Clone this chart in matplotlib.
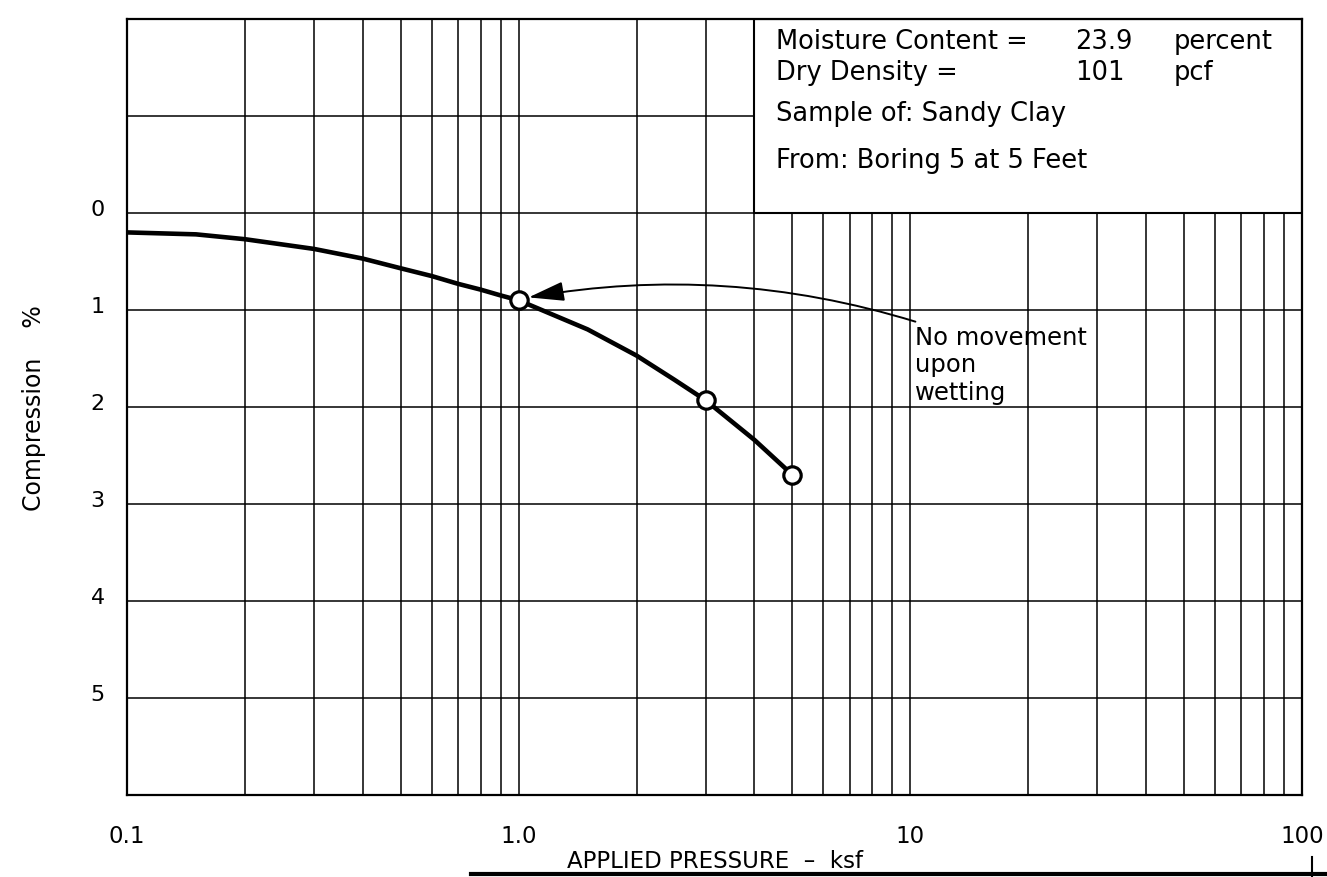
import matplotlib
matplotlib.use("Agg")
import matplotlib.pyplot as plt
from matplotlib.patches import Rectangle
from matplotlib.lines import Line2D
from matplotlib.transforms import ScaledTranslation
from matplotlib.ticker import LogLocator, NullFormatter, FixedLocator

plt.rcParams['font.family'] = ['DejaVu Sans']

# consolidation curve
pressure_curve = [0.1, 0.15, 0.2, 0.3, 0.4, 0.5, 0.6, 0.7, 0.8, 0.9, 1.0, 1.5, 2.0, 2.5, 3.0, 4.0, 5.0]
compression_curve = [0.20, 0.22, 0.27, 0.37, 0.47, 0.57, 0.65, 0.73, 0.79, 0.85, 0.90, 1.20, 1.47, 1.72, 1.93, 2.34, 2.70]

# measured load steps (open circles)
pressure_pts = [1.0, 3.0, 5.0]
compression_pts = [0.90, 1.93, 2.70]

x_major = [0.1, 1.0, 10, 100]
x_labels = ['0.1', '1.0', '10', '100']
y_lines = [-1, 0, 1, 2, 3, 4, 5]
y_labels = ['', '0', '1', '2', '3', '4', '5']

info_rows = [("Moisture Content =", "23.9", "percent"),
             ("Dry Density =", "101", "pcf")]
sample_txt = "Sample of: Sandy Clay"
from_txt = "From: Boring 5 at 5 Feet"
note_txt = "No movement\nupon\nwetting"

fig = plt.figure(figsize=(13.27, 8.78), dpi=100)
ax = fig.add_axes([0.0957, 0.0934, 0.8855, 0.8838])

ax.set_xscale('log')
ax.set_xlim(0.1, 100)
ax.set_ylim(6, -2)
ax.set_axisbelow(True)

ax.xaxis.set_major_locator(FixedLocator(x_major))
ax.set_xticklabels(x_labels)
ax.xaxis.set_minor_locator(LogLocator(base=10, subs=range(2, 10)))
ax.xaxis.set_minor_formatter(NullFormatter())
ax.set_yticks(y_lines)
ax.set_yticklabels(y_labels)

ax.tick_params(which='both', length=0)
ax.tick_params(axis='x', pad=21, labelsize=16.5)
ax.tick_params(axis='y', pad=16, labelsize=16)
# the y numbers sit a little above their lines on the sheet
for lab in ax.get_yticklabels():
    lab.set_transform(lab.get_transform() + ScaledTranslation(0, 0.06, fig.dpi_scale_trans))
ax.grid(which='both', axis='x', color='black', lw=1.1)
ax.grid(which='major', axis='y', color='black', lw=1.1)
for s in ax.spines.values():
    s.set_linewidth(1.6)

ax.set_xlabel("APPLIED PRESSURE  \u2013  ksf", fontsize=16.5)
ax.xaxis.set_label_coords(0.5, -0.07)
ax.set_ylabel("Compression    %", fontsize=17)
ax.yaxis.set_label_coords(-0.069, 0.5)

# info box, covers the grid in the upper right
ax.add_patch(Rectangle((4, -2), 96, 2, facecolor='white', edgecolor='black', lw=1.5, zorder=2))
row_y = [-1.77, -1.45]
for (lab, val, unit), yy in zip(info_rows, row_y):
    ax.text(4.55, yy, lab, fontsize=18.5, va='center', ha='left', zorder=3)
    ax.text(26.3, yy, val, fontsize=18.5, va='center', ha='left', zorder=3)
    ax.text(47.0, yy, unit, fontsize=18.5, va='center', ha='left', zorder=3)
ax.text(4.55, -1.03, sample_txt, fontsize=18.5, va='center', ha='left', zorder=3)
ax.text(4.55, -0.55, from_txt, fontsize=18.5, va='center', ha='left', zorder=3)

# curve + points
ax.plot(pressure_curve, compression_curve, color='black', lw=3.3, zorder=4,
        solid_capstyle='butt')
ax.plot(pressure_pts, compression_pts, 'o', ms=12.5, mfc='white', mec='black', mew=2.3, zorder=5)

# note with curved arrow
ax.annotate('', xy=(1.06, 0.87), xytext=(10.3, 1.12),
            arrowprops=dict(arrowstyle='-|>,head_length=1.1,head_width=0.3',
                            connectionstyle='arc3,rad=0.12', color='black',
                            lw=1.4, shrinkA=0, shrinkB=0, mutation_scale=20),
            zorder=6)
ax.text(10.25, 1.15, note_txt, fontsize=17.5, va='top', ha='left', zorder=6)

# edge of the next sheet showing at the bottom of the scan
fig.add_artist(Line2D([0.355, 1.0], [0.0035, 0.0035], transform=fig.transFigure, color='black', lw=3))
fig.add_artist(Line2D([0.9887, 0.9887], [0.0, 0.023], transform=fig.transFigure, color='black', lw=1.5))

fig.savefig("out.png", dpi=100)
